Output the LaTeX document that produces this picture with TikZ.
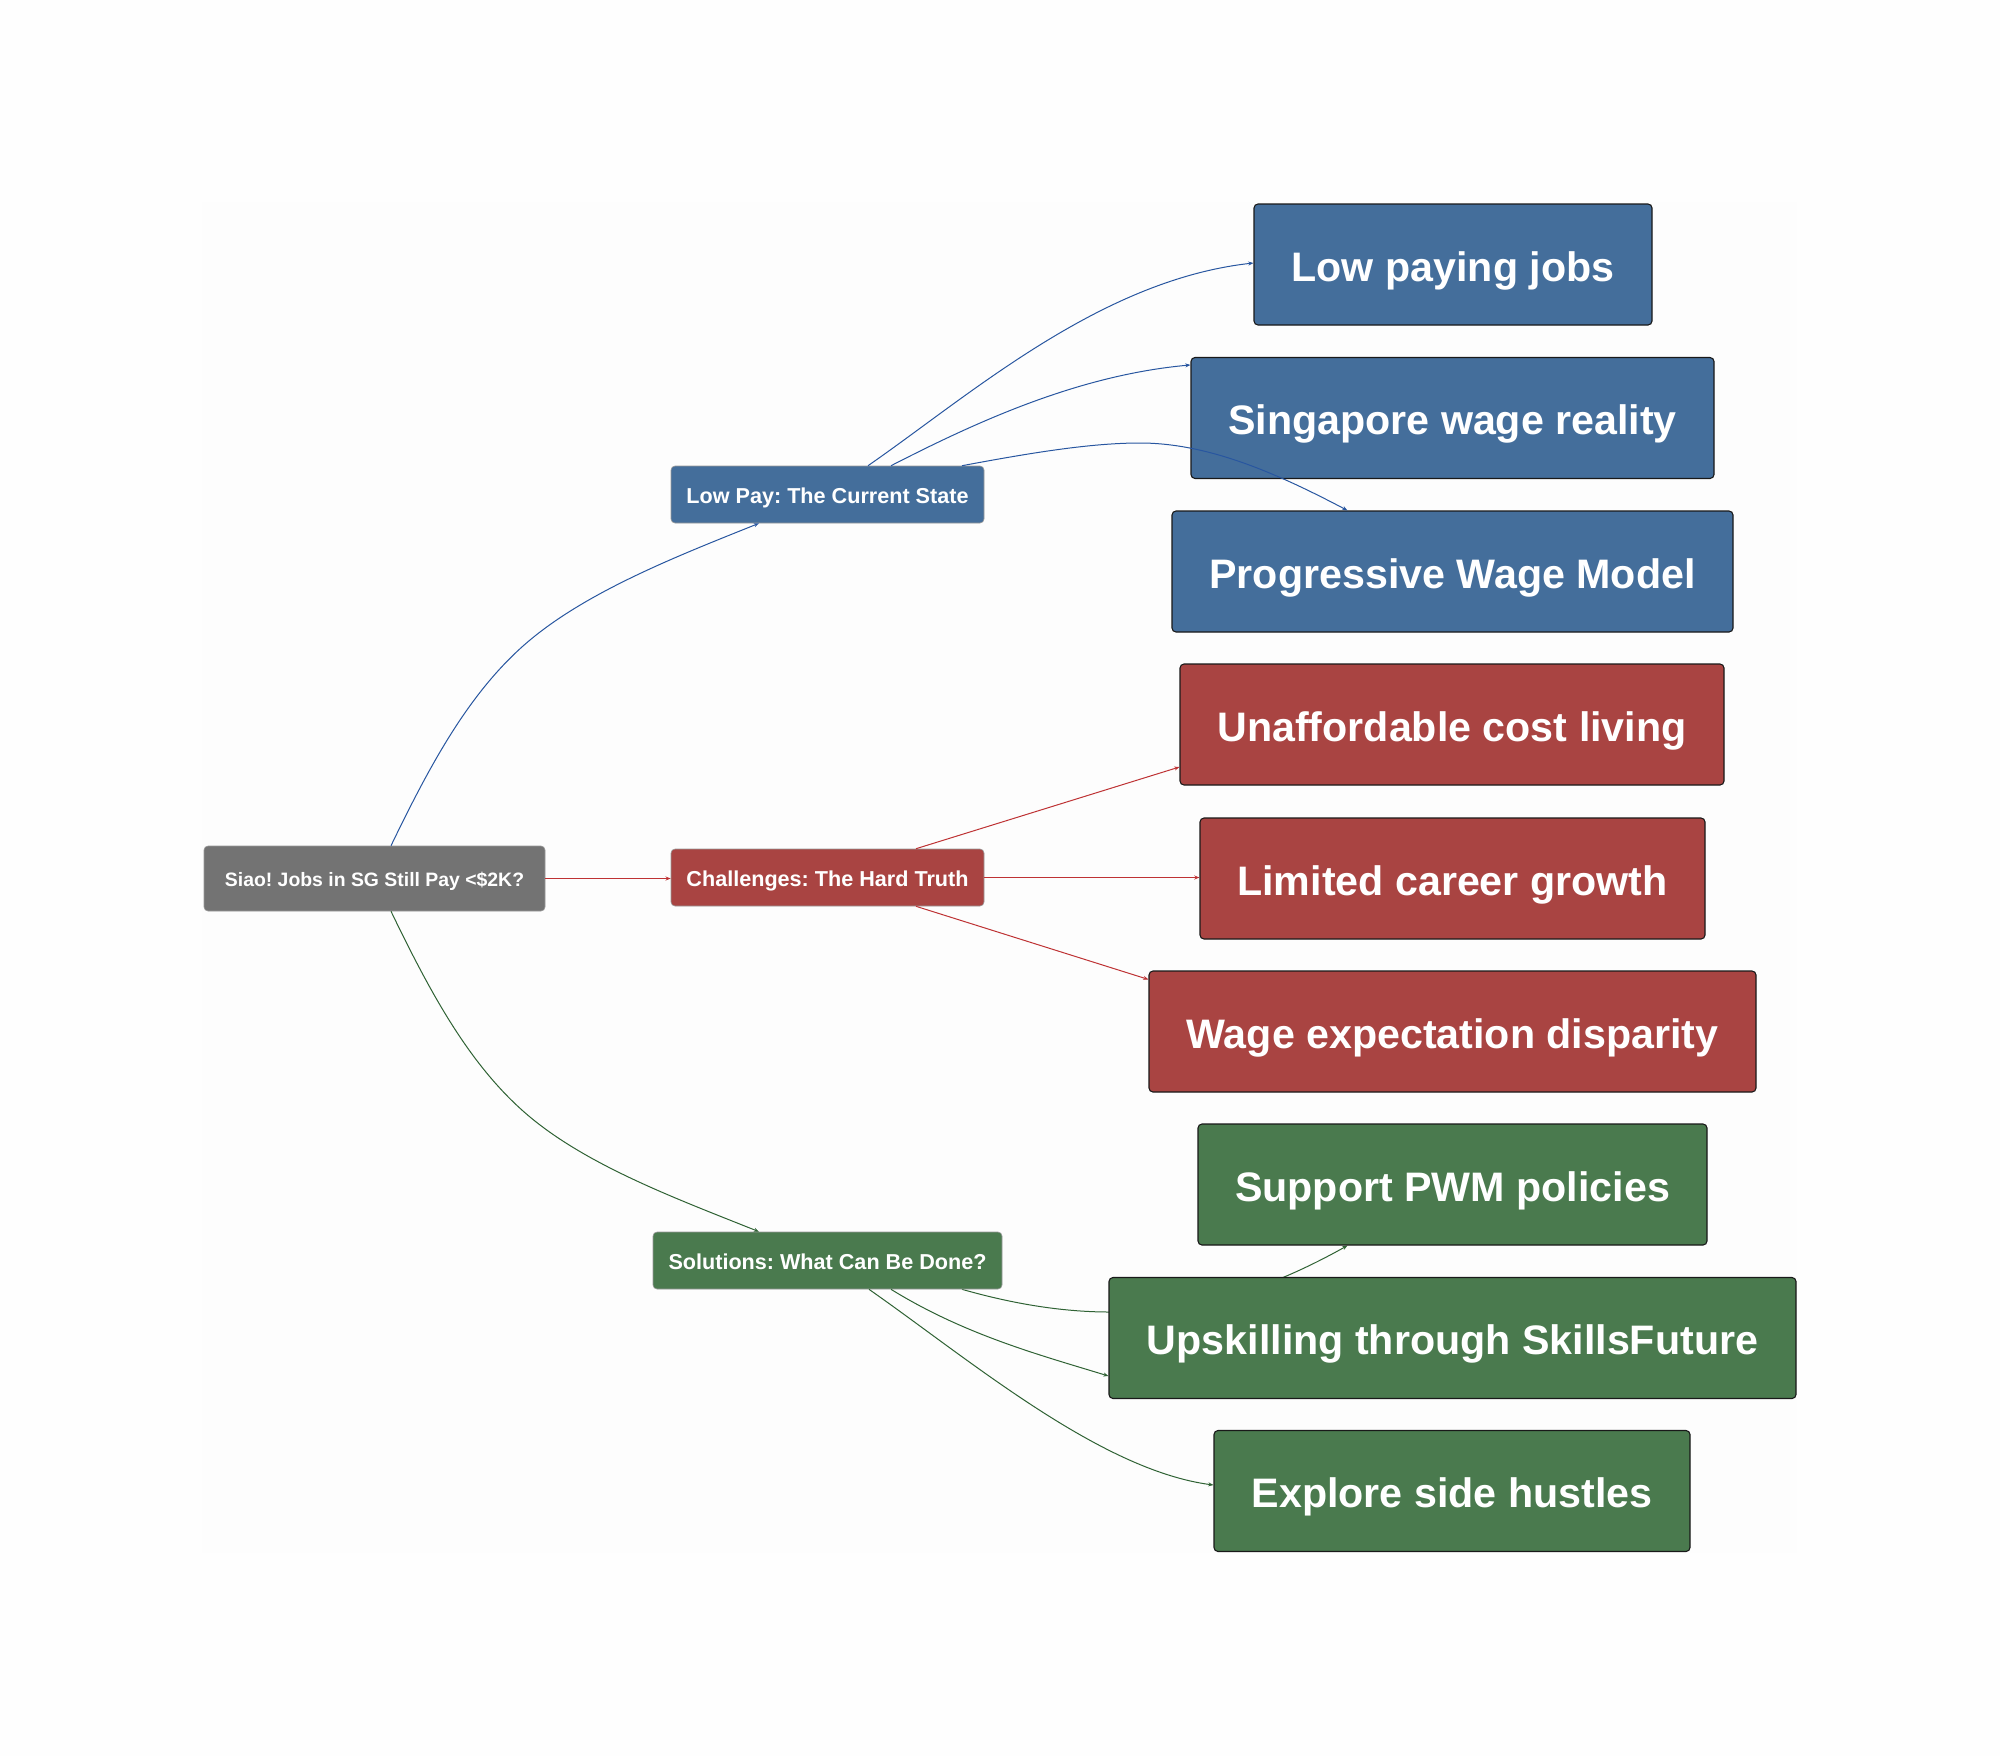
\documentclass[tikz,border=0pt]{standalone}
\usepackage{fontspec}
\setmainfont{Liberation Sans}
\usetikzlibrary{arrows.meta,calc}
\pgfdeclarelayer{under}
\pgfsetlayers{under,main}
\definecolor{cblue}{HTML}{446E9B}
\definecolor{cred}{HTML}{A94442}
\definecolor{cgreen}{HTML}{4A7A4E}
\definecolor{cgrey}{HTML}{737373}
\definecolor{lblue}{HTML}{2856A0}
\definecolor{lred}{HTML}{BE3234}
\definecolor{lgreen}{HTML}{2F6234}
\definecolor{paper}{HTML}{FDFDFD}
\definecolor{outer}{HTML}{FEFEFE}
\tikzset{
  box/.style={rectangle,rounded corners=2pt,inner sep=0pt,text=white,text depth=0pt},
  bignode/.style={box,draw=black!90,line width=0.55pt,minimum height=60.5pt,text height=16.7pt,font=\fontsize{20.6}{24}\selectfont\bfseries\frenchspacing},
  smallnode/.style={box,draw=black!40,line width=0.3pt,minimum height=28.5pt,text height=9pt,font=\fontsize{10.8}{12}\selectfont\bfseries\frenchspacing},
  rootnode/.style={smallnode,text height=8pt,font=\fontsize{9.7}{12}\selectfont\bfseries\frenchspacing,minimum height=32.5pt},
  link/.style={line width=0.5pt,-{Stealth[length=2.6pt,width=2pt]}},
}
\begin{document}
\begin{tikzpicture}[x=0.5pt,y=-0.5pt]
\useasboundingbox (0,0) rectangle (2000,1756);
\begin{pgfonlayer}{under}
\fill[outer] (0,0) rectangle (2000,1756);
\fill[paper] (202,202) rectangle (1797,1553);
\end{pgfonlayer}
\node[rootnode,fill=cgrey,minimum width=170.5pt] (root) at (374.5,878.5) {Siao! Jobs in SG Still Pay <\$2K?};
\node[smallnode,fill=cblue,minimum width=156.5pt] (low) at (827.5,494.5) {Low Pay: The Current State};
\node[smallnode,fill=cred,minimum width=156.5pt] (chal) at (827.5,877.5) {Challenges: The Hard Truth};
\node[smallnode,fill=cgreen,minimum width=174.5pt] (sol) at (827.5,1260.5) {Solutions: What Can Be Done?};
\node[bignode,fill=cblue,minimum width=199pt] (jobs) at (1453,264.5) {Low paying jobs};
\node[bignode,fill=cblue,minimum width=261.5pt] (sing) at (1452.5,418) {Singapore wage reality};
\node[bignode,fill=cblue,minimum width=280.5pt] (pwm) at (1452.5,571.5) {Progressive Wage Model};
\node[bignode,fill=cred,minimum width=272pt] (unaff) at (1452,724.5) {Unaffordable cost living};
\node[bignode,fill=cred,minimum width=252.5pt] (lim) at (1452.5,878.5) {Limited career growth};
\node[bignode,fill=cred,minimum width=303.5pt] (wage) at (1452.5,1031.5) {Wage expectation disparity};
\node[bignode,fill=cgreen,minimum width=254.5pt] (supp) at (1452.5,1184.5) {Support PWM policies};
\node[bignode,fill=cgreen,minimum width=343.5pt] (upsk) at (1452.5,1338) {Upskilling through SkillsFuture};
\node[bignode,fill=cgreen,minimum width=238pt] (expl) at (1452,1491) {Explore side hustles};
% root links
\draw[link,lblue] ($(root.north)+(16.5,0)$) .. controls (430,765) and (470,690) .. (530,640) .. controls (590,590) and (680,555) .. ($(low.south)+(-68.5,0)$);
\draw[link,lred] (root.east) -- (root.east -| chal.west);
\draw[link,lgreen] ($(root.south)+(16.5,0)$) .. controls (430,992) and (470,1067) .. (530,1117) .. controls (590,1167) and (680,1200) .. ($(sol.north)+(-68.5,0)$);
% low pay links
\draw[link,lblue] ($(low.north)+(40.5,0)$) .. controls (970,395) and (1100,280) .. ($(jobs.west)+(0,-1.5)$);
\draw[link,lblue] ($(low.north)+(63.5,0)$) .. controls (980,420) and (1080,375) .. ($(sing.north west)+(0,8)$);
\draw[link,lblue] ($(low.north)+(134.5,0)$) .. controls (1030,453) and (1090,443) .. (1140,443) .. controls (1210,443) and (1280,475) .. ($(pwm.north)+(-105,0)$);
% challenge links
\draw[link,lred] ($(chal.north)+(88.5,0)$) -- ($(unaff.west)+(0,42.5)$);
\draw[link,lred] (chal.east) -- (chal.east -| lim.west);
\draw[link,lred] ($(chal.south)+(88.5,0)$) -- ($(wage.north west)+(0,9)$);
% solutions links
\begin{pgfonlayer}{under}
\draw[link,lgreen] ($(sol.south)+(134.5,0)$) .. controls (1010,1303) and (1060,1312) .. (1110,1312) .. controls (1180,1312) and (1250,1300) .. ($(supp.south)+(-105,0)$);
\end{pgfonlayer}
\draw[link,lgreen] ($(sol.south)+(63.5,0)$) .. controls (965,1335) and (1040,1355) .. ($(upsk.west)+(0,38)$);
\draw[link,lgreen] ($(sol.south)+(41.5,0)$) .. controls (970,1360) and (1100,1470) .. ($(expl.west)+(0,-6)$);
\end{tikzpicture}
\end{document}
